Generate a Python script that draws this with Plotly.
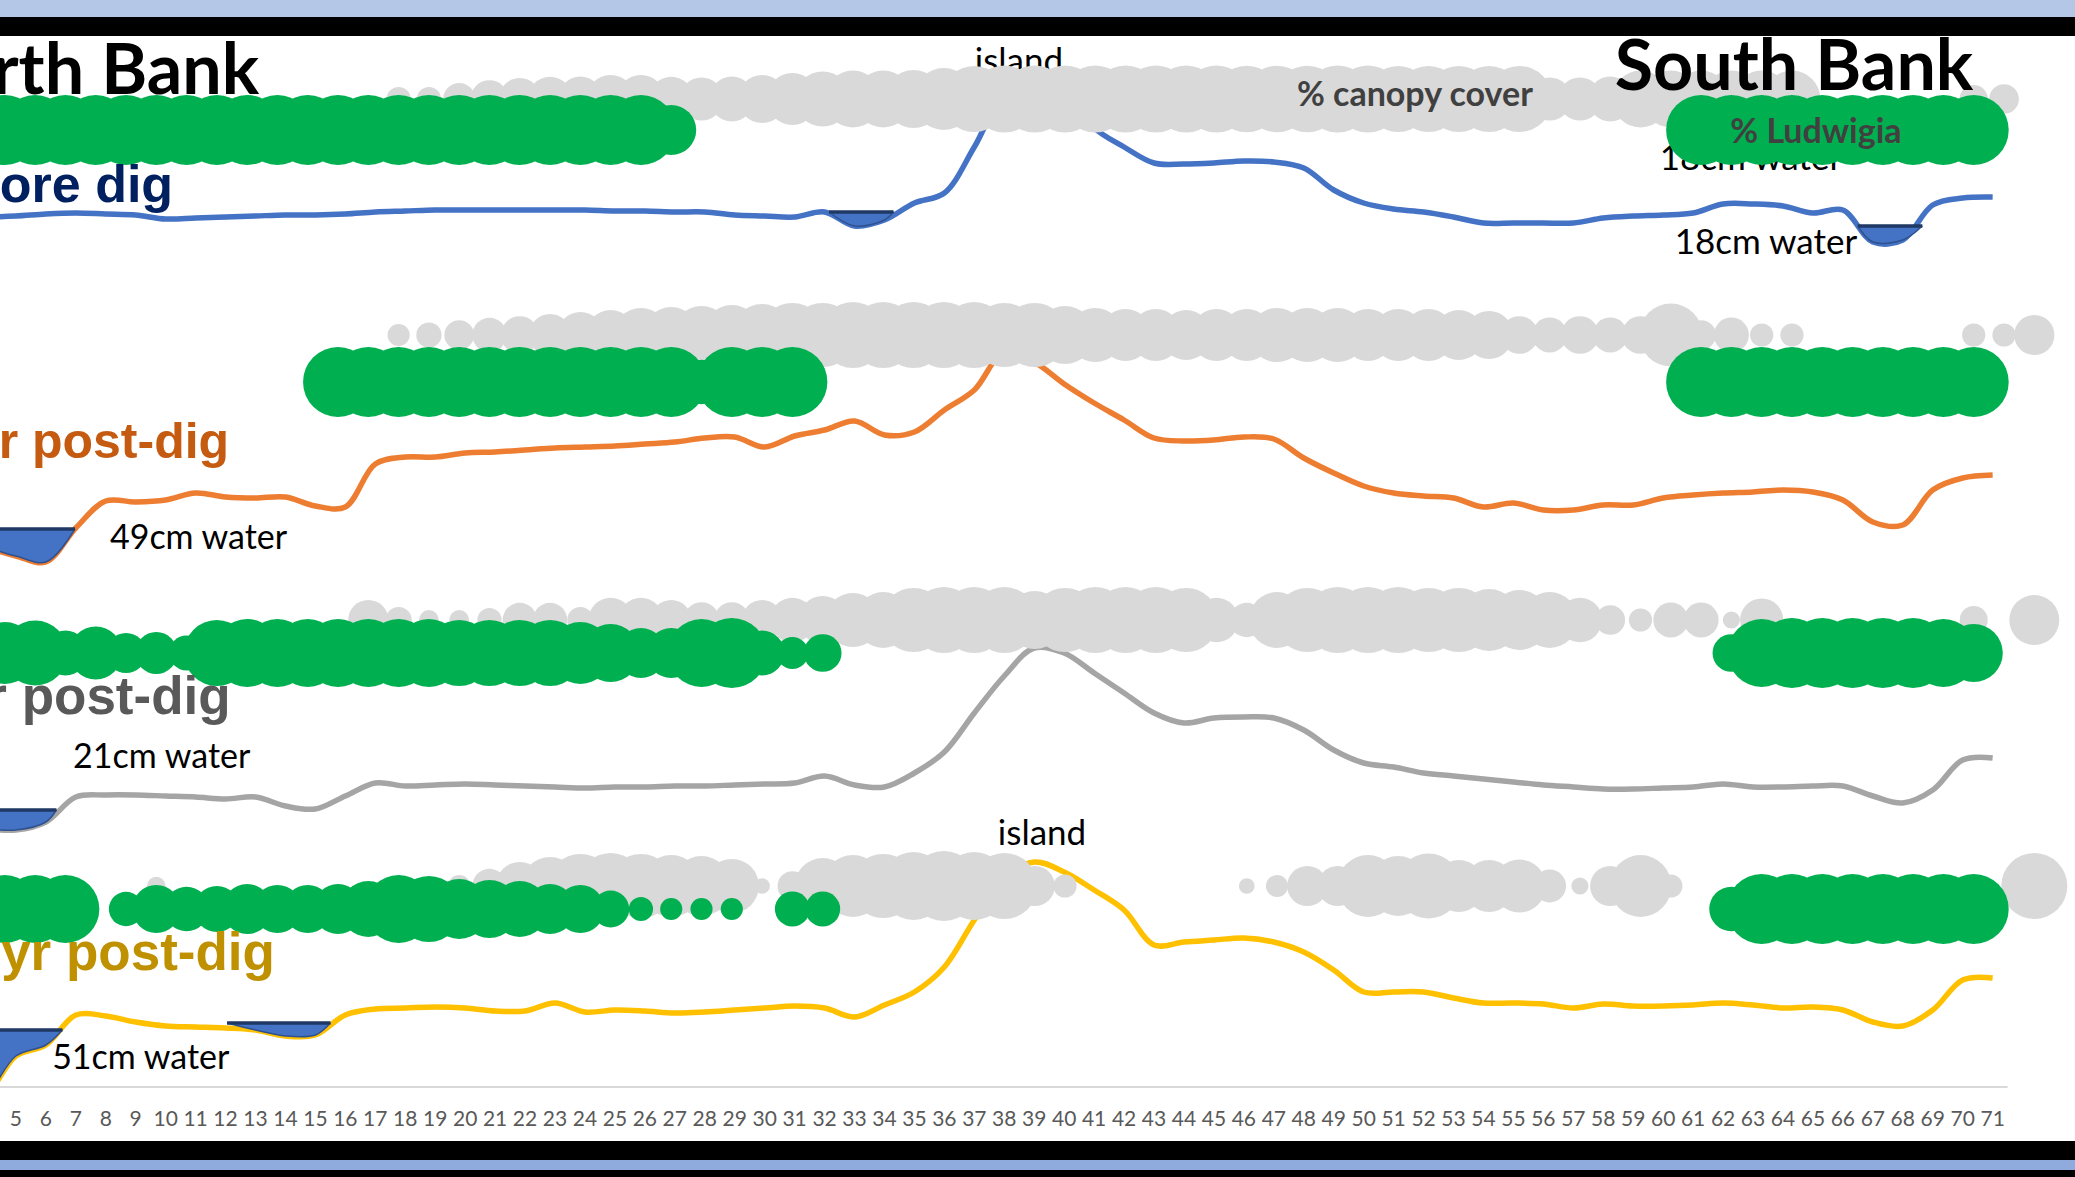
import plotly.graph_objects as go

# ---------------- data ----------------
CATS = list(range(1, 72))            # transect points (line categories)
TICK_LABELS = [str(c) for c in CATS]
BUBBLE_POS = list(range(1, 73))      # bubble series positions

# relative bed elevation along the transect (one series per survey)
BEFORE_DIG = [33, 33, 33, 33, 34, 36, 37, 36, 35, 31, 32, 33, 34, 35, 35, 36, 38, 39, 40, 40,
              40, 40, 40, 40, 39, 39, 38, 38, 35, 34, 33, 38, 24, 30, 47, 57, 103, 155, 162, 158,
              122, 103, 87, 86, 87, 89, 88, 82, 60, 47, 41, 38, 33, 27, 27, 27, 27, 32, 34, 35,
              37, 46, 46, 44, 37, 40, 8, 10, 45, 52, 53]
POST_1YR = [25, 25, 25, 22, 14, 8, 42, 69, 68, 70, 77, 73, 72, 73, 64, 63, 106, 113, 113, 117,
            118, 120, 122, 123, 124, 126, 128, 132, 133, 123, 134, 140, 149, 135, 138, 160, 180, 218, 208, 186,
            167, 150, 132, 129, 130, 133, 131, 112, 97, 84, 77, 74, 72, 63, 67, 60, 60, 65, 65, 72,
            75, 77, 78, 80, 78, 70, 48, 45, 80, 92, 95]
POST_2YR = [11, 11, 11, 11, 10, 18, 43, 45, 45, 44, 43, 41, 43, 34, 31, 44, 57, 54, 55, 56,
            55, 54, 53, 52, 53, 53, 54, 54, 55, 56, 57, 64, 55, 53, 67, 88, 127, 164, 192, 187,
            167, 147, 127, 117, 122, 123, 122, 110, 90, 77, 73, 67, 64, 61, 58, 55, 53, 51, 51, 52,
            53, 56, 53, 53, 54, 54, 44, 37, 50, 80, 82]
POST_3YR = [-10, -10, -5, 5, 44, 55, 85, 84, 78, 74, 73, 72, 70, 64, 65, 85, 91, 92, 93, 92,
            89, 89, 97, 88, 90, 89, 87, 88, 90, 92, 94, 92, 83, 95, 108, 133, 180, 222, 238, 228,
            210, 190, 155, 158, 160, 162, 158, 148, 130, 108, 108, 108, 102, 97, 97, 96, 92, 96, 94, 94,
            95, 97, 95, 92, 93, 90, 78, 74, 90, 120, 122]

# % canopy cover (grey bubbles), positions 1..72
CANOPY_BEFORE = [0, 0, 0, 0, 0, 0, 0, 0, 0, 0,
                 0, 0, 0, 0, 0, 0, 0, 12, 12, 21,
                 29, 36, 40, 41, 47, 47, 40, 38, 41, 47,
                 55, 62, 66, 66, 69, 78, 89, 92, 92, 92,
                 92, 92, 92, 92, 92, 90, 90, 90, 92, 92,
                 89, 89, 89, 89, 89, 38, 38, 41, 66, 66,
                 66, 66, 66, 66, 0, 0, 0, 0, 0, 16,
                 18, 0]
CANOPY_1YR = [0, 0, 0, 0, 0, 0, 0, 0, 0, 0,
              0, 0, 0, 0, 0, 0, 0, 10, 13, 18,
              24, 29, 36, 43, 51, 60, 64, 69, 73, 78,
              84, 84, 89, 89, 89, 89, 89, 84, 84, 69,
              60, 55, 55, 51, 55, 55, 60, 60, 60, 55,
              55, 55, 51, 47, 29, 25, 29, 25, 29, 81,
              18, 25, 11, 11, 0, 0, 0, 0, 0, 11,
              11, 33]
CANOPY_2YR = [0, 0, 0, 0, 0, 0, 0, 0, 0, 0,
              0, 0, 0, 0, 0, 0, 33, 14, 8, 8,
              12, 24, 24, 14, 40, 40, 33, 26, 26, 33,
              40, 47, 60, 64, 84, 89, 89, 89, 69, 84,
              89, 89, 89, 84, 40, 24, 64, 84, 89, 89,
              89, 84, 84, 78, 73, 64, 40, 18, 11, 25,
              25, 6, 38, 0, 0, 0, 0, 0, 0, 16,
              0, 51]
CANOPY_3YR = [0, 0, 0, 0, 0, 0, 0, 0, 0, 7,
              0, 0, 0, 0, 0, 0, 0, 0, 0, 10,
              24, 47, 69, 84, 89, 84, 78, 73, 60, 5,
              18, 64, 78, 84, 94, 100, 94, 89, 33, 11,
              0, 0, 0, 0, 0, 5, 10, 33, 33, 78,
              73, 86, 55, 55, 57, 22, 6, 33, 78, 11,
              0, 0, 0, 0, 0, 0, 0, 0, 0, 0,
              0, 89]

# % Ludwigia (green bubbles), positions 1..72
LUDWIGIA_BEFORE = [100] * 26 + [51] + [0] * 33 + [100] * 10 + [0, 0]
LUDWIGIA_1YR = [0] * 15 + [100] * 12 + [40, 100, 100, 100] + [0] * 29 + [100] * 10 + [0, 0]
LUDWIGIA_2YR = [100, 100, 100, 100, 78, 86, 41, 57, 33, 36, 25, 89, 94, 94, 94, 94, 94, 94, 94, 89,
                89, 89, 89, 78, 69, 51, 51, 94, 100, 41, 21, 29] + [0] * 29 + \
               [29, 94, 100, 100, 100, 100, 100, 94, 69, 0, 0]
LUDWIGIA_3YR = [94, 94, 94, 94, 94, 94, 94, 0, 24, 47, 40, 43, 51, 47, 47, 51, 64, 94, 89, 73,
                69, 64, 51, 47, 28, 12, 10, 10, 10, 0, 25, 25] + [0] * 29 + \
               [40, 100, 100, 100, 100, 100, 100, 100, 100, 0, 0]

for arr in (CANOPY_BEFORE, CANOPY_1YR, CANOPY_2YR, CANOPY_3YR,
            LUDWIGIA_BEFORE, LUDWIGIA_1YR, LUDWIGIA_2YR, LUDWIGIA_3YR):
    assert len(arr) == len(BUBBLE_POS)
for arr in (BEFORE_DIG, POST_1YR, POST_2YR, POST_3YR):
    assert len(arr) == len(CATS)

# water bodies: survey index, start / end along transect, water surface (relative elevation)
WATER_SURVEY = [0, 0, 1, 2, 3, 3]
WATER_START = [32.15, 66.5, 2.5, 2.5, 2.5, 12.05]
WATER_END = [34.3, 68.65, 6.97, 6.35, 6.55, 15.5]
WATER_LEVEL = [38, 24, 41, 30, 70, 77]

SURVEY_NAMES = ["Before dig", "1yr post-dig", "2yr post-dig", "3yr post-dig"]

# ---------------- layout constants ----------------
W, H = 2075, 1177
PROFILES = [BEFORE_DIG, POST_1YR, POST_2YR, POST_3YR]
CANOPY = [CANOPY_BEFORE, CANOPY_1YR, CANOPY_2YR, CANOPY_3YR]
LUDWIGIA = [LUDWIGIA_BEFORE, LUDWIGIA_1YR, LUDWIGIA_2YR, LUDWIGIA_3YR]
OFFSETS = [927, 607, 337, 77]           # vertical stacking of the four surveys
CANOPY_ROW = [1078, 842, 557, 291]
LUDWIGIA_ROW = [1047, 795, 524, 268]
LINE_COLORS = ["#4472C4", "#ED7D31", "#A5A5A5", "#FFC000"]
LABEL_COLORS = ["#002060", "#C55A11", "#595959", "#BF9000"]
LABEL_X = [10.25, 12.12, 12.17, 13.65]
LABEL_Y = [988, 732, 476, 220]
LABEL_SIZE = [52, 50, 53, 53]

X_RANGE = [4.469, 73.75]
X2_RANGE = [4.840, 73.344]
Y_RANGE = [86, 1177]
SREF = 2.0 * 100 / 70 ** 2
CAL = "Lato, 'Open Sans', sans-serif"
ARIAL = "'Liberation Sans', Arial, sans-serif"


def to_x2(x):
    """transect position on the line axis -> same spot on the bubble axis"""
    f = (x - X_RANGE[0]) / (X_RANGE[1] - X_RANGE[0])
    return X2_RANGE[0] + f * (X2_RANGE[1] - X2_RANGE[0])


fig = go.Figure()

# profile lines
for i, prof in enumerate(PROFILES):
    fig.add_trace(go.Scatter(
        x=CATS, y=[OFFSETS[i] + v for v in prof], mode="lines",
        line=dict(color=LINE_COLORS[i], width=5.5, shape="spline", smoothing=1.0),
        hoverinfo="skip", name=SURVEY_NAMES[i]))

# water
for k in range(len(WATER_SURVEY)):
    s = WATER_SURVEY[k]
    x0, x1, lev = WATER_START[k], WATER_END[k], WATER_LEVEL[k]
    bx = [x0] + [c for c in CATS if x0 < c < x1] + [x1]
    by = [lev] + [PROFILES[s][c - 1] for c in CATS if x0 < c < x1] + [lev]
    top_y = OFFSETS[s] + lev
    fig.add_trace(go.Scatter(x=[x0, x1], y=[top_y, top_y], mode="lines",
                             line=dict(color="#1F3864", width=3), hoverinfo="skip"))
    fig.add_trace(go.Scatter(x=bx, y=[OFFSETS[s] + v for v in by], mode="lines",
                             line=dict(color="#2F528F", width=1.5, shape="spline"),
                             fill="tonexty", fillcolor="#4472C4", hoverinfo="skip"))
    fig.add_trace(go.Scatter(x=[x0, x1], y=[top_y, top_y], mode="lines",
                             line=dict(color="#1F3864", width=3), hoverinfo="skip"))

# text that sits behind bubbles (same subplot as the lines, drawn below the bubble layer)
fig.add_trace(go.Scatter(x=[38.49, 62.93], y=[1113, 1016], mode="text",
                         text=["island", "18cm water"], textposition="middle center",
                         textfont=dict(family=CAL, size=35, color="#000000"),
                         hoverinfo="skip", cliponaxis=False))


# bubbles (own horizontal axis, like an overlaid bubble chart)
def bubble(vals, row_y, color):
    xs = [p for p, v in zip(BUBBLE_POS, vals) if v > 0]
    ss = [v for v in vals if v > 0]
    return go.Scatter(x=xs, y=[row_y] * len(xs), xaxis="x2", yaxis="y", mode="markers",
                      marker=dict(size=ss, sizemode="area", sizeref=SREF, color=color,
                                  line=dict(width=0), opacity=1),
                      hoverinfo="skip", cliponaxis=False)


for i in range(4):
    fig.add_trace(bubble(CANOPY[i], CANOPY_ROW[i], "#D9D9D9"))
for i in range(4):
    fig.add_trace(bubble(LUDWIGIA[i], LUDWIGIA_ROW[i], "#00B050"))


def top_text(xs, ys, texts, pos, font):
    return go.Scatter(x=[to_x2(v) for v in xs], y=ys, xaxis="x2", yaxis="y", mode="text",
                      text=texts, textposition=pos, textfont=font,
                      hoverinfo="skip", cliponaxis=False)


# survey labels
for i in range(4):
    fig.add_trace(top_text([LABEL_X[i]], [LABEL_Y[i]], [SURVEY_NAMES[i]], "middle left",
                           dict(family=ARIAL, size=LABEL_SIZE[i], color=LABEL_COLORS[i],
                                weight="bold")))

# bank titles and series labels
fig.add_trace(top_text([13.12], [1101], ["North Bank"], "middle left",
                       dict(family=CAL, size=70, color="#000000", weight="bold")))
fig.add_trace(top_text([64.37], [1105], ["South Bank"], "middle center",
                       dict(family=CAL, size=70, color="#000000", weight="bold")))
fig.add_trace(top_text([51.71, 65.10], [1080, 1043], ["% canopy cover", "% Ludwigia"],
                       "middle center",
                       dict(family=CAL, size=34, color="#404040", weight="bold")))
fig.add_trace(top_text([39.26, 63.43], [341, 932], ["island", "18cm water"], "middle center",
                       dict(family=CAL, size=35, color="#000000")))
fig.add_trace(top_text([8.14, 6.91, 6.21], [637, 418, 117],
                       ["49cm water", "21cm water", "51cm water"], "middle right",
                       dict(family=CAL, size=34, color="#000000")))

shapes = [
    dict(type="line", xref="x", yref="y", x0=0.5, x1=71.5, y0=90, y1=90,
         line=dict(color="#D9D9D9", width=2)),
]


def band(top_px, bot_px, color):
    return dict(type="rect", xref="paper", yref="paper", x0=0, x1=1,
                y0=1 - bot_px / H, y1=1 - top_px / H, fillcolor=color,
                line=dict(width=0), layer="above")


shapes += [band(0, 17, "#B4C7E7"), band(17, 36, "#000000"),
           band(1141, 1160, "#000000"), band(1160, 1170, "#8FAADC"), band(1170, 1177, "#000000")]

fig.update_layout(
    width=W, height=H, margin=dict(l=0, r=0, t=0, b=0),
    paper_bgcolor="white", plot_bgcolor="white", showlegend=False,
    xaxis=dict(range=X_RANGE, tickmode="array", tickvals=CATS, ticktext=TICK_LABELS,
               showgrid=False, zeroline=False, showline=False,
               ticks="outside", ticklen=9, tickcolor="rgba(0,0,0,0)",
               tickfont=dict(family=CAL, size=21, color="#595959")),
    xaxis2=dict(range=X2_RANGE, overlaying="x", visible=False),
    yaxis=dict(range=Y_RANGE, domain=[Y_RANGE[0] / H, 1], visible=False),
    shapes=shapes,
)

fig.write_html("out.html")
